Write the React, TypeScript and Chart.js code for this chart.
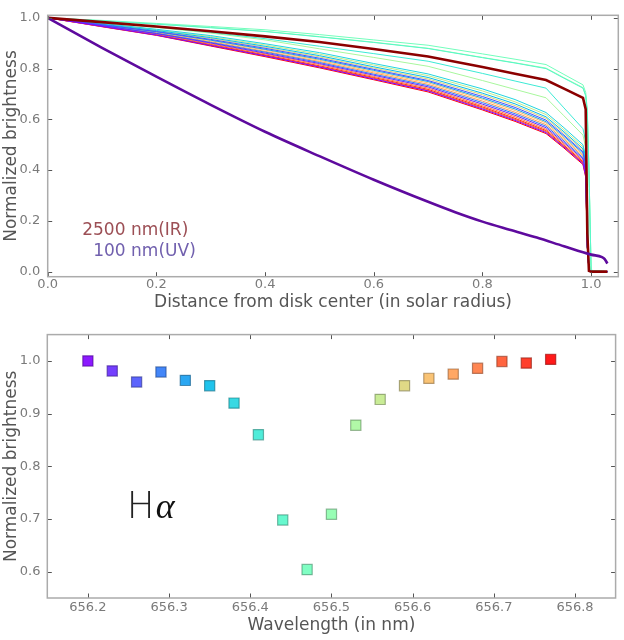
import React, { useEffect, useRef } from "react";
import { Chart, registerables } from "chart.js";

Chart.register(...registerables);

// ---------------- Top chart data (limb darkening profiles) ----------------
const RADIUS = [0, 0.1, 0.2, 0.3, 0.4, 0.5, 0.6, 0.7, 0.8, 0.86, 0.917, 0.95, 0.985, 0.99, 0.993, 0.996, 1.0, 1.03];

// thin curves, one per H-alpha wavelength (same order as WAVELENGTHS below)
const P_656_20 = [1, 0.966, 0.932, 0.891, 0.85, 0.806, 0.759, 0.712, 0.641, 0.596, 0.548, 0.491, 0.426, 0.376, 0.1, 0.004, 0, 0];
const P_656_23 = [1, 0.969, 0.938, 0.901, 0.861, 0.82, 0.774, 0.728, 0.66, 0.616, 0.567, 0.509, 0.444, 0.394, 0.1, 0.004, 0, 0];
const P_656_26 = [1, 0.973, 0.946, 0.915, 0.88, 0.841, 0.797, 0.753, 0.69, 0.647, 0.597, 0.538, 0.472, 0.422, 0.1, 0.004, 0, 0];
const P_656_29 = [1, 0.97, 0.939, 0.903, 0.865, 0.824, 0.778, 0.733, 0.666, 0.622, 0.573, 0.515, 0.449, 0.399, 0.1, 0.004, 0, 0];
const P_656_32 = [1, 0.972, 0.945, 0.912, 0.876, 0.837, 0.793, 0.749, 0.684, 0.641, 0.591, 0.533, 0.467, 0.417, 0.1, 0.004, 0, 0];
const P_656_35 = [1, 0.975, 0.95, 0.922, 0.888, 0.851, 0.807, 0.765, 0.703, 0.661, 0.61, 0.551, 0.484, 0.434, 0.1, 0.004, 0, 0];
const P_656_38 = [1, 0.978, 0.955, 0.93, 0.898, 0.863, 0.82, 0.779, 0.72, 0.678, 0.627, 0.567, 0.5, 0.45, 0.1, 0.004, 0, 0];
const P_656_41 = [1, 0.983, 0.965, 0.943, 0.918, 0.888, 0.859, 0.829, 0.781, 0.751, 0.723, 0.645, 0.563, 0.513, 0.3, 0.01, 0, 0];
const P_656_44 = [1, 0.988, 0.975, 0.961, 0.946, 0.925, 0.903, 0.879, 0.843, 0.822, 0.8, 0.762, 0.723, 0.693, 0.623, 0.4, 0.005, 0];
const P_656_47 = [1, 0.99, 0.978, 0.966, 0.953, 0.934, 0.913, 0.892, 0.858, 0.837, 0.816, 0.777, 0.736, 0.706, 0.636, 0.4, 0.005, 0];
const P_656_50 = [1, 0.988, 0.975, 0.962, 0.947, 0.926, 0.904, 0.88, 0.844, 0.823, 0.802, 0.764, 0.725, 0.695, 0.625, 0.4, 0.005, 0];
const P_656_53 = [1, 0.982, 0.962, 0.94, 0.913, 0.878, 0.844, 0.809, 0.753, 0.718, 0.685, 0.614, 0.538, 0.488, 0.3, 0.01, 0, 0];
const P_656_56 = [1, 0.977, 0.953, 0.926, 0.893, 0.857, 0.814, 0.772, 0.712, 0.669, 0.619, 0.559, 0.492, 0.442, 0.1, 0.004, 0, 0];
const P_656_59 = [1, 0.974, 0.948, 0.919, 0.884, 0.846, 0.802, 0.759, 0.697, 0.654, 0.604, 0.545, 0.478, 0.428, 0.1, 0.004, 0, 0];
const P_656_62 = [1, 0.972, 0.943, 0.91, 0.873, 0.833, 0.788, 0.744, 0.679, 0.635, 0.586, 0.527, 0.461, 0.411, 0.1, 0.004, 0, 0];
const P_656_65 = [1, 0.971, 0.941, 0.906, 0.868, 0.828, 0.783, 0.738, 0.672, 0.628, 0.579, 0.521, 0.455, 0.405, 0.1, 0.004, 0, 0];
const P_656_68 = [1, 0.968, 0.936, 0.898, 0.858, 0.816, 0.769, 0.723, 0.654, 0.61, 0.561, 0.504, 0.438, 0.388, 0.1, 0.004, 0, 0];
const P_656_71 = [1, 0.966, 0.933, 0.893, 0.852, 0.808, 0.762, 0.714, 0.645, 0.6, 0.552, 0.494, 0.429, 0.379, 0.1, 0.004, 0, 0];
const P_656_74 = [1, 0.967, 0.934, 0.895, 0.854, 0.811, 0.765, 0.718, 0.649, 0.604, 0.556, 0.498, 0.433, 0.383, 0.1, 0.004, 0, 0];
const P_656_77 = [1, 0.965, 0.931, 0.889, 0.847, 0.803, 0.756, 0.708, 0.637, 0.592, 0.544, 0.487, 0.422, 0.372, 0.1, 0.004, 0, 0];

const PROFILES = [
  P_656_20, P_656_23, P_656_26, P_656_29, P_656_32, P_656_35, P_656_38, P_656_41, P_656_44, P_656_47,
  P_656_50, P_656_53, P_656_56, P_656_59, P_656_62, P_656_65, P_656_68, P_656_71, P_656_74, P_656_77,
];

// 2500 nm (IR) profile, same radii as RADIUS
const IR_VALUES = [1, 0.983, 0.966, 0.947, 0.927, 0.905, 0.877, 0.848, 0.806, 0.78, 0.755, 0.721, 0.685, 0.64, 0.15, 0.003, 0, 0];

// 100 nm (UV) profile
const UV_RADIUS = [0, 0.1, 0.2, 0.3, 0.4, 0.5, 0.6, 0.7, 0.75, 0.8, 0.85, 0.9, 0.95, 1.0, 1.02, 1.025, 1.03];
const UV_VALUES = [1.0, 0.882, 0.768, 0.657, 0.551, 0.455, 0.362, 0.275, 0.234, 0.197, 0.165, 0.134, 0.1, 0.067, 0.057, 0.049, 0.032];

const TOP_X_TICKS = [0, 0.2, 0.4, 0.6, 0.8, 1.0];
const TOP_Y_TICKS = [0, 0.2, 0.4, 0.6, 0.8, 1.0];

// ---------------- Bottom chart data (H-alpha line) ----------------
const WAVELENGTHS = [656.2, 656.23, 656.26, 656.29, 656.32, 656.35, 656.38, 656.41, 656.44, 656.47, 656.5, 656.53, 656.56, 656.59, 656.62, 656.65, 656.68, 656.71, 656.74, 656.77];
const BRIGHTNESS = [1.0, 0.981, 0.96, 0.979, 0.963, 0.953, 0.92, 0.86, 0.698, 0.604, 0.709, 0.878, 0.927, 0.953, 0.967, 0.975, 0.986, 0.999, 0.996, 1.003];

const BOT_X_TICKS = [656.2, 656.3, 656.4, 656.5, 656.6, 656.7, 656.8];
const BOT_Y_TICKS = [0.6, 0.7, 0.8, 0.9, 1.0];

// ---------------- styling helpers ----------------
const FONT = "DejaVu Sans";
const TICK_COLOR = "#7a7a7a";
const TITLE_COLOR = "#555555";

function rainbow(t: number): [number, number, number] {
  const c = (v: number) => Math.max(0, Math.min(1, v));
  const r = c(Math.abs(2 * t - 0.5));
  const g = c(Math.sin(Math.PI * t));
  const b = c(Math.cos((Math.PI * t) / 2));
  return [Math.round(r * 255), Math.round(g * 255), Math.round(b * 255)];
}

const frameTicksPlugin = {
  id: "frameTicks",
  afterDraw(chart: any) {
    const { ctx, chartArea: a, scales } = chart;
    const xs = scales.x;
    const ys = scales.y;
    const L = 4.5;
    ctx.save();
    ctx.strokeStyle = "#555";
    ctx.lineWidth = 1;
    ctx.beginPath();
    for (const t of xs.ticks) {
      const px = Math.round(xs.getPixelForValue(t.value)) + 0.5;
      ctx.moveTo(px, a.bottom);
      ctx.lineTo(px, a.bottom - L);
      ctx.moveTo(px, a.top);
      ctx.lineTo(px, a.top + L);
    }
    for (const t of ys.ticks) {
      const py = Math.round(ys.getPixelForValue(t.value)) + 0.5;
      ctx.moveTo(a.left, py);
      ctx.lineTo(a.left + L, py);
      ctx.moveTo(a.right, py);
      ctx.lineTo(a.right - L, py);
    }
    ctx.stroke();
    ctx.strokeStyle = "#ababab";
    ctx.lineWidth = 1.5;
    ctx.strokeRect(a.left, a.top, a.right - a.left, a.bottom - a.top);
    ctx.restore();
  },
};

const topLabelsPlugin = {
  id: "topLabels",
  afterDatasetsDraw(chart: any) {
    const { ctx, scales } = chart;
    const x = scales.x;
    const y = scales.y;
    ctx.save();
    ctx.font = `17px "${FONT}"`;
    ctx.textBaseline = "middle";
    ctx.textAlign = "left";
    ctx.fillStyle = "#9c4f55";
    ctx.fillText("2500 nm(IR)", x.getPixelForValue(0.0635), y.getPixelForValue(0.16));
    ctx.fillStyle = "#7160ae";
    ctx.fillText("100 nm(UV)", x.getPixelForValue(0.0838), y.getPixelForValue(0.0775));
    ctx.restore();
  },
};

const hAlphaPlugin = {
  id: "hAlpha",
  afterDatasetsDraw(chart: any) {
    const { ctx, scales } = chart;
    const px = scales.x.getPixelForValue(656.248);
    const py = scales.y.getPixelForValue(0.701);
    ctx.save();
    ctx.textBaseline = "alphabetic";
    ctx.textAlign = "left";
    ctx.fillStyle = "#222";
    ctx.font = `200 37px "${FONT}"`;
    ctx.fillText("H", px, py);
    const w = ctx.measureText("H").width;
    ctx.fillStyle = "#111";
    ctx.font = `italic 36px "Liberation Serif"`;
    ctx.fillText("\u03B1", px + w + 1, py);
    ctx.restore();
  },
};

function axisCommon(ticks: number[], digits: number, padding: number) {
  return {
    type: "linear" as const,
    afterBuildTicks: (s: any) => {
      s.ticks = ticks.map((v) => ({ value: v }));
    },
    ticks: {
      callback: (v: any) => Number(v).toFixed(digits),
      color: TICK_COLOR,
      font: { family: FONT, size: 13 },
      padding,
      autoSkip: false,
      maxRotation: 0,
    },
    grid: { display: false, drawTicks: false },
    border: { display: false },
  };
}

export default function App() {
  const topRef = useRef<HTMLCanvasElement | null>(null);
  const botRef = useRef<HTMLCanvasElement | null>(null);

  useEffect(() => {
    document.body.style.margin = "0";
    Chart.defaults.font.family = FONT;

    const thinSets = PROFILES.map((vals, i) => {
      const [r, g, b] = rainbow(i / (PROFILES.length - 1));
      return {
        label: `${WAVELENGTHS[i]} nm`,
        data: RADIUS.map((x, j) => ({ x, y: vals[j] })),
        showLine: true,
        borderColor: `rgb(${r},${g},${b})`,
        borderWidth: 1,
        pointRadius: 0,
        tension: 0,
      };
    });

    const topChart = new Chart(topRef.current as HTMLCanvasElement, {
      type: "scatter",
      data: {
        datasets: [
          {
            label: "100 nm",
            data: UV_RADIUS.map((x, j) => ({ x, y: UV_VALUES[j] })),
            showLine: true,
            borderColor: "#5e0a9e",
            borderWidth: 2.6,
            pointRadius: 0,
            cubicInterpolationMode: "monotone",
          },
          {
            label: "2500 nm",
            data: RADIUS.map((x, j) => ({ x, y: IR_VALUES[j] })),
            showLine: true,
            borderColor: "#8b0000",
            borderWidth: 2.6,
            pointRadius: 0,
          },
          ...thinSets,
        ] as any,
      },
      options: {
        responsive: false,
        animation: false,
        devicePixelRatio: 1,
        layout: { padding: { top: 9.3, right: 5.7, left: 0, bottom: 0 } },
        plugins: { legend: { display: false }, tooltip: { enabled: false } },
        scales: {
          x: {
            ...axisCommon(TOP_X_TICKS, 1, 0.5),
            min: 0,
            max: 1.05,
            title: {
              display: true,
              text: "Distance from disk center (in solar radius)",
              color: TITLE_COLOR,
              font: { family: FONT, size: 17 },
              padding: { top: 0, bottom: 6.8 },
            },
            afterFit: (s: any) => {
              s.height = 43.3;
            },
          },
          y: {
            ...axisCommon(TOP_Y_TICKS, 1, 7.5),
            min: -0.02,
            max: 1.01,
            title: {
              display: true,
              text: "Normalized brightness",
              color: TITLE_COLOR,
              font: { family: FONT, size: 17 },
              padding: { top: 1.5, bottom: 0 },
            },
            afterFit: (s: any) => {
              s.width = 47.7;
            },
          },
        } as any,
      },
      plugins: [frameTicksPlugin, topLabelsPlugin],
    });

    const pointColors = WAVELENGTHS.map((_, i) => rainbow(i / (WAVELENGTHS.length - 1)));
    const botChart = new Chart(botRef.current as HTMLCanvasElement, {
      type: "scatter",
      data: {
        datasets: [
          {
            label: "H-alpha",
            data: WAVELENGTHS.map((x, i) => ({ x, y: BRIGHTNESS[i] })),
            pointStyle: "rect",
            pointRadius: 7.2,
            pointHoverRadius: 7.2,
            backgroundColor: pointColors.map(([r, g, b]) => `rgba(${r},${g},${b},0.9)`),
            borderColor: pointColors.map(
              ([r, g, b]) => `rgba(${Math.round(r * 0.55)},${Math.round(g * 0.55)},${Math.round(b * 0.55)},0.6)`
            ),
            borderWidth: 1.2,
          },
        ] as any,
      },
      options: {
        responsive: false,
        animation: false,
        devicePixelRatio: 1,
        layout: { padding: { top: 10, right: 5, left: 0, bottom: 0 } },
        plugins: { legend: { display: false }, tooltip: { enabled: false } },
        scales: {
          x: {
            ...axisCommon(BOT_X_TICKS, 1, 1.5),
            min: 656.15,
            max: 656.85,
            title: {
              display: true,
              text: "Wavelength (in nm)",
              color: TITLE_COLOR,
              font: { family: FONT, size: 17 },
              padding: { top: 0, bottom: 3.8 },
            },
            afterFit: (s: any) => {
              s.height = 42;
            },
          },
          y: {
            ...axisCommon(BOT_Y_TICKS, 1, 6.8),
            min: 0.55,
            max: 1.05,
            title: {
              display: true,
              text: "Normalized brightness",
              color: TITLE_COLOR,
              font: { family: FONT, size: 17 },
              padding: { top: 1.5, bottom: 0 },
            },
            afterFit: (s: any) => {
              s.width = 47.3;
            },
          },
        } as any,
      },
      plugins: [frameTicksPlugin, hAlphaPlugin],
    });

    return () => {
      topChart.destroy();
      botChart.destroy();
    };
  }, []);

  return (
    <div style={{ position: "absolute", left: 0, top: 0, width: 624, height: 640, background: "#fff" }}>
      <canvas ref={topRef} width={624} height={320} style={{ display: "block", width: 624, height: 320 }} />
      <canvas ref={botRef} width={624} height={320} style={{ display: "block", width: 624, height: 320 }} />
    </div>
  );
}
